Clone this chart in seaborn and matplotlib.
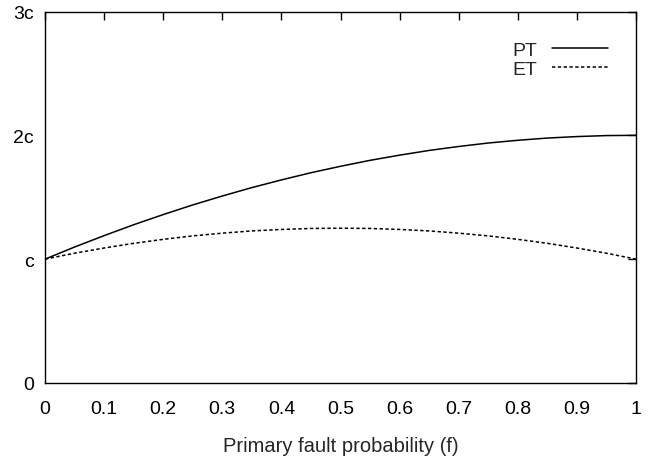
import numpy as np
import pandas as pd
import matplotlib
matplotlib.use('Agg')
import matplotlib.pyplot as plt
import seaborn as sns

# values (in units of c)
f_vals = [0.0, 0.05, 0.1, 0.15, 0.2, 0.25, 0.3, 0.35, 0.4, 0.45, 0.5,
          0.55, 0.6, 0.65, 0.7, 0.75, 0.8, 0.85, 0.9, 0.95, 1.0]
pt_vals = [1.0, 1.098, 1.19, 1.278, 1.36, 1.438, 1.51, 1.578, 1.64, 1.698, 1.75,
           1.798, 1.84, 1.878, 1.91, 1.938, 1.96, 1.978, 1.99, 1.998, 2.0]
et_vals = [1.0, 1.048, 1.09, 1.128, 1.16, 1.188, 1.21, 1.228, 1.24, 1.248, 1.25,
           1.248, 1.24, 1.228, 1.21, 1.188, 1.16, 1.128, 1.09, 1.048, 1.0]
x_ticks = [0, 0.1, 0.2, 0.3, 0.4, 0.5, 0.6, 0.7, 0.8, 0.9, 1]
x_tick_labels = ['0', '0.1', '0.2', '0.3', '0.4', '0.5', '0.6', '0.7', '0.8', '0.9', '1']
y_ticks = [0, 1, 2, 3]
y_tick_labels = ['0', 'c', '2c', '3c']

df = pd.DataFrame({'f': f_vals * 2,
                   'cost': pt_vals + et_vals,
                   'scheme': ['PT'] * len(f_vals) + ['ET'] * len(f_vals)})

sns.set_style('white')
plt.rcParams['font.family'] = ['Liberation Sans', 'DejaVu Sans']

fig = plt.figure(figsize=(6.5, 4.6), dpi=100)
ax = fig.add_axes([45 / 650, 1 - 384 / 460, 591 / 650, 371.5 / 460])

sns.lineplot(data=df, x='f', y='cost', hue='scheme', style='scheme',
             palette={'PT': 'black', 'ET': 'black'},
             dashes={'PT': '', 'ET': (2.2, 1.6)},
             linewidth=1.1, ax=ax)

ax.set_xlim(0, 1)
ax.set_ylim(0, 3)
ax.set_xticks(x_ticks)
ax.set_xticklabels(x_tick_labels)
ax.set_yticks(y_ticks)
ax.set_yticklabels(y_tick_labels)
ax.set_xlabel('Primary fault probability (f)', fontsize=14.5, labelpad=14)
ax.set_ylabel('')
ax.tick_params(direction='in', length=6, width=1, top=True, right=True,
               labelsize=14, colors='black')
ax.tick_params(axis='x', labeltop=False, pad=12)
ax.tick_params(axis='y', labelright=False, pad=8)
for s in ax.spines.values():
    s.set_color('black')
    s.set_linewidth(1.0)

handles, labels = ax.get_legend_handles_labels()
ax.legend(handles, labels, loc='upper right',
          bbox_to_anchor=(608 / 650, 1 - 42 / 460), bbox_transform=fig.transFigure,
          frameon=False, markerfirst=False, fontsize=14, handlelength=2.9,
          handletextpad=0.75, labelspacing=0.1, borderaxespad=0, borderpad=0)

plt.savefig('out.png', dpi=100)
